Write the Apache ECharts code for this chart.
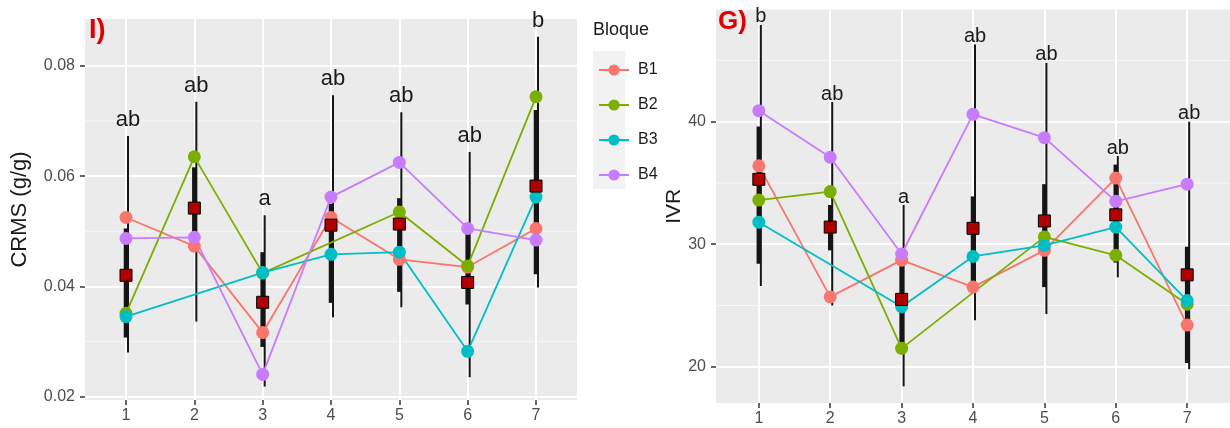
<!DOCTYPE html>
<html><head><meta charset="utf-8">
<script src="https://cdn.jsdelivr.net/npm/echarts@6/dist/echarts.min.js"></script>
<style>html,body{margin:0;padding:0;background:#fff}#c{width:1230px;height:428px}</style>
</head><body><div id="c"></div>
<script>
const categories = ['1','2','3','4','5','6','7'];
const blocks = ['B1','B2','B3','B4'];
const blockColors = ['#F8766D','#7CAE00','#00BFC4','#C77CFF'];

// Panel I) CRMS (g/g)
const crmsB1 = [0.0525,0.0473,0.0316,0.0525,0.0449,0.0435,0.0505];
const crmsB2 = [0.0351,0.0635,0.0424,null,0.0535,0.0437,0.0744];
const crmsB3 = [0.0345,null,0.0425,0.0458,0.0462,0.0282,0.0562];
const crmsB4 = [0.0487,0.0489,0.0240,0.0562,0.0625,0.0505,0.0484];
const crmsMean = [0.0420,0.0542,0.0371,0.0511,0.0513,0.0407,0.0582];
const crmsHigh = [0.0673,0.0735,0.0529,0.0747,0.0716,0.0644,0.0853];
const crmsLow = [0.0280,0.0336,0.0218,0.0344,0.0362,0.0235,0.0398];
const crmsBarHigh = [0.0505,0.0616,0.0462,0.0550,0.0560,0.0500,0.0720];
const crmsBarLow = [0.0307,0.0470,0.0290,0.0370,0.0390,0.0367,0.0422];
const crmsLetters = ['ab','ab','a','ab','ab','ab','b'];
const crmsTicks = [0.02,0.04,0.06,0.08];
const crmsMinor = [0.03,0.05,0.07];

// Panel G) IVR
const ivrB1 = [36.4,25.7,28.7,26.5,29.5,35.4,23.4];
const ivrB2 = [33.6,34.3,21.5,null,30.6,29.1,25.1];
const ivrB3 = [31.8,null,24.9,29.0,29.9,31.4,25.4];
const ivrB4 = [40.9,37.1,29.2,40.6,38.7,33.5,34.9];
const ivrMean = [35.3,31.4,25.5,31.3,31.9,32.4,27.5];
const ivrHigh = [47.9,41.6,33.2,46.3,44.8,37.2,40.0];
const ivrLow = [26.6,25.0,18.4,23.8,24.3,27.3,19.8];
const ivrBarHigh = [39.6,33.2,29.0,33.9,34.9,36.5,29.8];
const ivrBarLow = [28.4,29.5,22.0,27.0,26.5,28.5,20.3];
const ivrLetters = ['b','ab','a','ab','ab','ab','ab'];
const ivrTicks = [20,30,40];
const ivrMinor = [25,35,45];

const xPos = categories.map((c,i)=>i+1);
const X_MIN = 0.4, X_MAX = 7.6;
const FONT = '"Liberation Sans", Arial, sans-serif';

function xAxisFor(grid){
  return {type:'value', gridIndex:grid, min:X_MIN, max:X_MAX,
    axisLine:{show:false},
    axisTick:{show:true, customValues:xPos, length:5, lineStyle:{color:'#333',width:1.5}},
    axisLabel:{customValues:xPos, formatter:v=>categories[Math.round(v)-1], color:'#4d4d4d', fontSize:16, fontFamily:FONT, margin:8},
    splitLine:{show:true, lineStyle:{color:'#ffffff', width:2}}};
}
function yAxisFor(grid, min, max, ticks, fmt, name, nameGap, nameSize){
  return {type:'value', gridIndex:grid, min:min, max:max, name:name, nameLocation:'middle', nameGap:nameGap, nameRotate:90,
     nameTextStyle:{fontSize:nameSize, color:'#1a1a1a', fontFamily:FONT},
     axisLine:{show:false},
     axisTick:{show:true, customValues:ticks, length:5, lineStyle:{color:'#333',width:1.5}},
     axisLabel:{customValues:ticks, formatter:fmt, color:'#4d4d4d', fontSize:16, fontFamily:FONT, margin:10},
     splitLine:{show:true, lineStyle:{color:'#ffffff', width:2}}};
}
function minorSeries(grid, minor){
  return {type:'custom', xAxisIndex:grid, yAxisIndex:grid, z:1, silent:true, clip:true,
    encode:{x:0, y:1}, data: minor.map(v=>[X_MIN, v]),
    renderItem:(params, api)=>{
      const v = api.value(1);
      const a = api.coord([X_MIN, v]);
      const b = api.coord([X_MAX, v]);
      return {type:'line', shape:{x1:a[0], y1:a[1], x2:b[0], y2:b[1]}, style:{stroke:'#f8f8f8', lineWidth:1}};
    }};
}
function errSeries(grid, lo, hi, blo, bhi, letters, fontSize, off){
  return {type:'custom', xAxisIndex:grid, yAxisIndex:grid, clip:false, z:2, silent:true,
    encode:{x:0, y:[1,2,3,4]},
    data: xPos.map((x,i)=>[x, lo[i], hi[i], blo[i], bhi[i]]),
    renderItem:(params, api)=>{
      const x = api.value(0);
      const pLo = api.coord([x, api.value(1)]);
      const pHi = api.coord([x, api.value(2)]);
      const bLo = api.coord([x, api.value(3)]);
      const bHi = api.coord([x, api.value(4)]);
      return {type:'group', children:[
        {type:'line', shape:{x1:pLo[0]+2, y1:pLo[1], x2:pHi[0]+2, y2:pHi[1]}, style:{stroke:'#151515', lineWidth:2}},
        {type:'line', shape:{x1:bLo[0], y1:bLo[1], x2:bHi[0], y2:bHi[1]}, style:{stroke:'#151515', lineWidth:4.5}},
        {type:'text', x:pHi[0]+2, y:pHi[1]+off, style:{text:letters[params.dataIndex], fill:'#1a1a1a', fontSize:fontSize, fontFamily:FONT, align:'center', verticalAlign:'bottom'}}
      ]};
    }};
}
function blockSeries(grid, arrs){
  return arrs.map((arr,k)=>({type:'line', name:blocks[k], xAxisIndex:grid, yAxisIndex:grid, z:3,
    data: xPos.map((x,i)=>[x, arr[i]]), connectNulls:true, symbol:'circle', symbolSize:13,
    itemStyle:{color:blockColors[k]}, lineStyle:{color:blockColors[k], width:1.8}}));
}
function meanSeries(grid, arr){
  return {type:'scatter', name:'Media', xAxisIndex:grid, yAxisIndex:grid, z:4, symbol:'rect', symbolSize:12,
    data: xPos.map((x,i)=>[x, arr[i]]), itemStyle:{color:'#b00000', borderColor:'#000', borderWidth:1, opacity:1}};
}

const chart = echarts.init(document.getElementById('c'), null, {renderer:'canvas'});
chart.setOption({
  animation:false,
  backgroundColor:'#ffffff',
  grid:[
    {left:85, right:653, top:19, bottom:28, show:true, backgroundColor:'#ebebeb', borderWidth:0},
    {left:716, right:-6, top:9.5, bottom:25, show:true, backgroundColor:'#ebebeb', borderWidth:0}
  ],
  xAxis:[xAxisFor(0), xAxisFor(1)],
  yAxis:[
    yAxisFor(0, 0.01936, 0.08853, crmsTicks, v=>v.toFixed(2), 'CRMS (g/g)', 54, 22),
    yAxisFor(1, 17.04, 49.16, ivrTicks, v=>String(Math.round(v)), 'IVR', 6, 21)
  ],
  legend:{data:blocks, orient:'vertical', left:593, top:57, itemWidth:30, itemHeight:14, itemGap:19,
    textStyle:{fontSize:16, color:'#1a1a1a', fontFamily:FONT, lineHeight:14, padding:[0,0,0,4]}},
  graphic:[
    {type:'rect', left:593, top:51, shape:{width:32, height:138}, style:{fill:'#f2f2f2'}, z:-1},
    {type:'text', left:593, top:21, style:{text:'Bloque', fontSize:18, fill:'#1a1a1a', fontFamily:FONT}},
    {type:'text', left:89, top:17, style:{text:'I)', fontSize:27, fontWeight:'bold', fill:'#e00000', fontFamily:FONT}, z:10},
    {type:'text', left:718, top:9, style:{text:'G)', fontSize:26, fontWeight:'bold', fill:'#e00000', fontFamily:FONT}, z:10}
  ],
  series:[
    minorSeries(0, crmsMinor),
    errSeries(0, crmsLow, crmsHigh, crmsBarLow, crmsBarHigh, crmsLetters, 22, -5),
    ...blockSeries(0, [crmsB1, crmsB2, crmsB3, crmsB4]),
    meanSeries(0, crmsMean),
    minorSeries(1, ivrMinor),
    errSeries(1, ivrLow, ivrHigh, ivrBarLow, ivrBarHigh, ivrLetters, 20, 2),
    ...blockSeries(1, [ivrB1, ivrB2, ivrB3, ivrB4]),
    meanSeries(1, ivrMean)
  ]
});
</script></body></html>
